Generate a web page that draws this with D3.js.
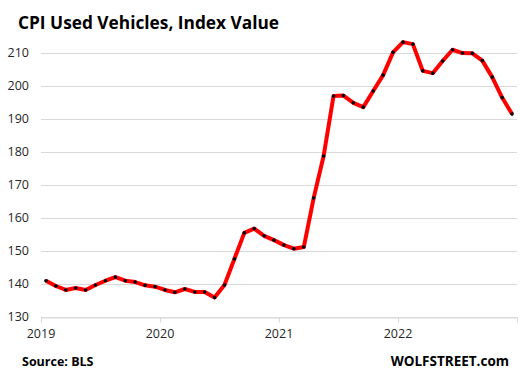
<!DOCTYPE html>
<html>
<head>
<meta charset="utf-8">
<script src="https://cdn.jsdelivr.net/npm/d3@7"></script>
<style>
  body { margin: 0; background: #fff; }
  svg { display: block; font-family: "Open Sans", "Noto Sans", sans-serif; }
</style>
</head>
<body>
<svg id="chart"></svg>
<script>
// Monthly CPI used vehicles index, Jan 2019 - Dec 2022
var years = [2019, 2020, 2021, 2022];
var yTicks = [130, 140, 150, 160, 170, 180, 190, 200, 210];
var values = [
  140.9, 139.3, 138.1, 138.7, 138.1, 139.6, 140.9, 142.0, 140.9, 140.5, 139.5, 139.1,
  138.1, 137.4, 138.4, 137.5, 137.5, 135.8, 139.6, 147.5, 155.4, 156.7, 154.5, 153.2,
  151.7, 150.6, 151.1, 166.0, 178.7, 196.9, 197.0, 194.8, 193.5, 198.4, 203.2, 210.1,
  213.2, 212.6, 204.5, 203.8, 207.5, 210.9, 209.9, 209.8, 207.6, 202.6, 196.4, 191.4
];

var width = 521, height = 377;
var margin = { top: 40, right: 4, bottom: 60, left: 41 };

var svg = d3.select("#chart")
  .attr("width", width)
  .attr("height", height);

// x: month index, points sit in the middle of each month slot
var x = d3.scaleLinear()
  .domain([0, values.length])
  .range([margin.left, width - margin.right]);

var y = d3.scaleLinear()
  .domain([130, 214])
  .range([316.7, 316.7 - 84 * 3.3]);

// gridlines
svg.append("g")
  .selectAll("line")
  .data(yTicks)
  .enter()
  .append("line")
  .attr("x1", x(0))
  .attr("x2", x(values.length))
  .attr("y1", d => Math.round(y(d)) + 0.5)
  .attr("y2", d => Math.round(y(d)) + 0.5)
  .attr("stroke", "#d9d9d9")
  .attr("stroke-width", 1);

// y labels
svg.append("g")
  .selectAll("text")
  .data(yTicks)
  .enter()
  .append("text")
  .attr("x", 29)
  .attr("y", d => y(d))
  .attr("dy", "0.35em")
  .attr("text-anchor", "end")
  .attr("font-size", 12.5)
  .attr("fill", "#262626")
  .text(d => d);

// x ticks at year boundaries
var xAxis = d3.axisBottom(x)
  .tickValues(years.map((d, i) => i * 12).concat([values.length]))
  .tickFormat("")
  .tickSize(5)
  .tickSizeOuter(0);

var gx = svg.append("g")
  .attr("transform", `translate(0, ${Math.round(y(130)) + 0.5})`)
  .call(xAxis);
gx.select(".domain").attr("stroke", "#d9d9d9");
gx.selectAll(".tick line").attr("stroke", "#d9d9d9");

svg.append("g")
  .selectAll("text")
  .data(years)
  .enter()
  .append("text")
  .attr("x", (d, i) => x(i * 12))
  .attr("y", 338)
  .attr("text-anchor", "middle")
  .attr("font-size", 12.5)
  .attr("fill", "#262626")
  .text(d => d);

// the line
var line = d3.line()
  .x((d, i) => x(i + 0.5))
  .y(d => y(d));

svg.append("path")
  .datum(values)
  .attr("fill", "none")
  .attr("stroke", "#ff0000")
  .attr("stroke-width", 4)
  .attr("stroke-linejoin", "round")
  .attr("d", line);

svg.append("g")
  .selectAll("circle")
  .data(values)
  .enter()
  .append("circle")
  .attr("cx", (d, i) => x(i + 0.5))
  .attr("cy", d => y(d))
  .attr("r", 1.8)
  .attr("fill", "#000");

// title and footer
svg.append("text")
  .attr("x", 18)
  .attr("y", 29)
  .attr("font-size", 17.3)
  .attr("font-weight", "bold")
  .attr("fill", "#000")
  .text("CPI Used Vehicles, Index Value");

svg.append("text")
  .attr("x", 22)
  .attr("y", 366)
  .attr("font-size", 12.5)
  .attr("font-weight", "bold")
  .attr("fill", "#000")
  .text("Source: BLS");

svg.append("text")
  .attr("x", 509)
  .attr("y", 366)
  .attr("text-anchor", "end")
  .attr("font-size", 13.5)
  .attr("font-weight", "bold")
  .attr("fill", "#000")
  .text("WOLFSTREET.com");
</script>
</body>
</html>
